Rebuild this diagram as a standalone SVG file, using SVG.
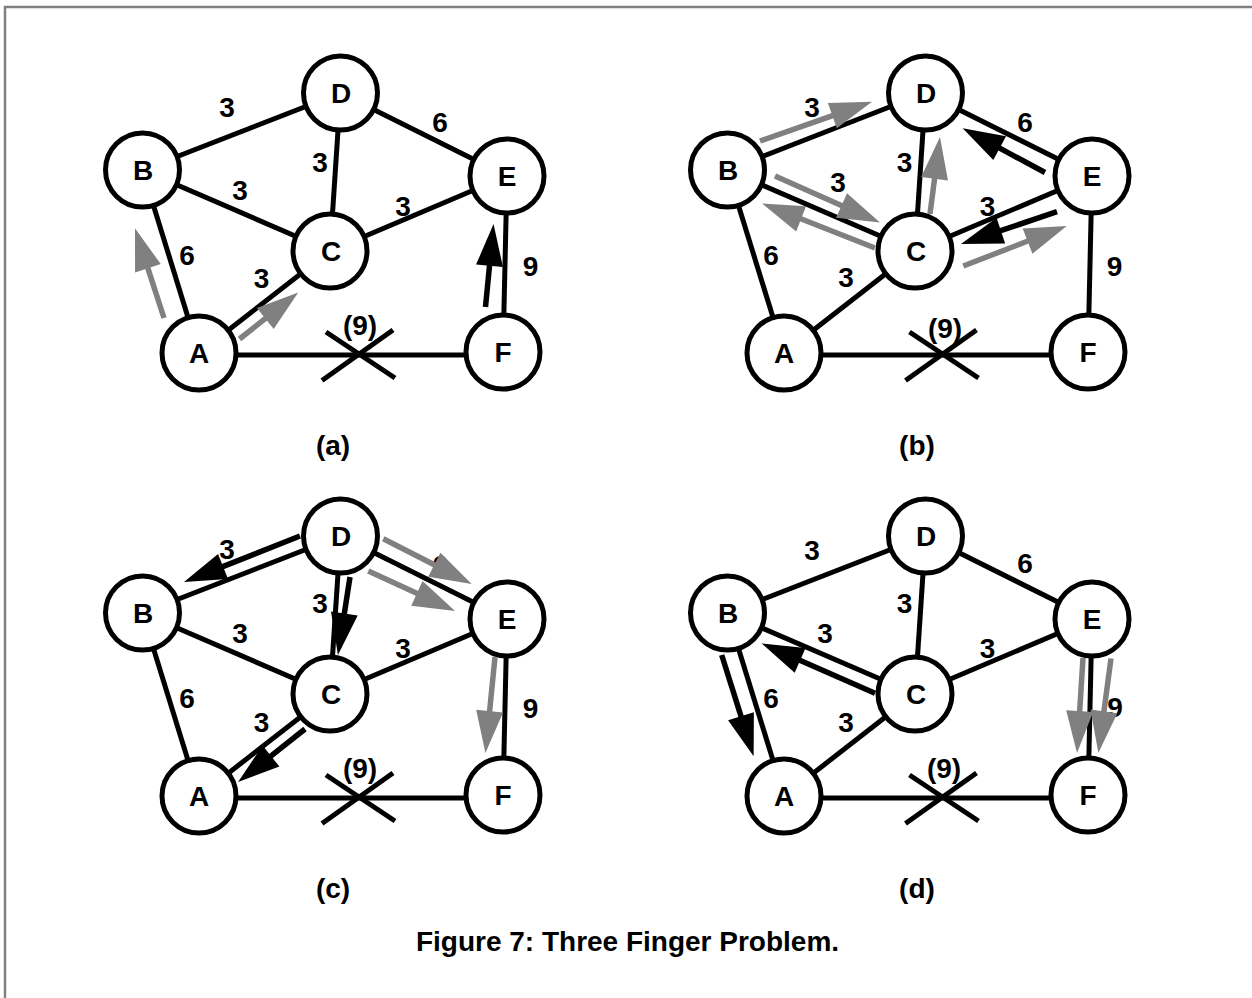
<svg xmlns="http://www.w3.org/2000/svg" width="1252" height="998" viewBox="0 0 1252 998">
  <style>
    .edge { stroke: #000; stroke-width: 5; fill: none; }
    .node circle { fill: #fff; stroke: #000; stroke-width: 5; }
    text { font-family: "Liberation Sans", Arial, Helvetica, sans-serif; font-weight: bold; font-size: 28px; text-anchor: middle; fill: #000; }
    .arw { stroke-width: 5.5; fill: none; }
    .arw.gray { stroke: #808080; marker-end: url(#head-gray); }
    .arw.blk { stroke: #000; marker-end: url(#head-black); }
    .frame { stroke: #808080; stroke-width: 2.5; fill: none; }
  </style>
  <defs>
    <marker id="head-black" markerUnits="userSpaceOnUse" markerWidth="44" markerHeight="28" refX="1" refY="13.5" orient="auto" overflow="visible">
      <path d="M0,0 L42,13.5 L0,27 z" fill="#000"/>
    </marker>
    <marker id="head-gray" markerUnits="userSpaceOnUse" markerWidth="44" markerHeight="28" refX="1" refY="13.5" orient="auto" overflow="visible">
      <path d="M0,0 L42,13.5 L0,27 z" fill="#808080"/>
    </marker>
    <path id="cross" d="M-34,-23 L35,23 M-38,25.5 L33,-25" stroke="#000" stroke-width="5" fill="none"/>
  </defs>

  <rect width="1252" height="998" fill="#fff"/>
  <path class="frame" d="M5,998 V7 H1252"/>

  <!-- panel (a) -->
  <g id="panel-a">
    <g id="a-edges" class="connectors">
      <line class="edge" x1="142.5" y1="170" x2="340.5" y2="93"/>
      <line class="edge" x1="340.5" y1="93" x2="507" y2="176"/>
      <line class="edge" x1="142.5" y1="170" x2="330" y2="251"/>
      <line class="edge" x1="340.5" y1="93" x2="330" y2="251"/>
      <line class="edge" x1="330" y1="251" x2="507" y2="176"/>
      <line class="edge" x1="142.5" y1="170" x2="199" y2="353"/>
      <line class="edge" x1="199" y1="353" x2="330" y2="251"/>
      <line class="edge" x1="507" y1="176" x2="503" y2="352"/>
      <line class="edge" x1="199" y1="355" x2="503" y2="355"/>
      <use href="#cross" x="360" y="355"/>
    </g>
    <g id="a-weights">
      <text x="227" y="117">3</text>
      <text x="440" y="131.5">6</text>
      <text x="320" y="171.5">3</text>
      <text x="240" y="200">3</text>
      <text x="403" y="216">3</text>
      <text x="187" y="264.5">6</text>
      <text x="261.5" y="288">3</text>
      <text x="530.5" y="275.5">9</text>
      <text x="360" y="335">(9)</text>
    </g>
    <g id="a-A" class="node"><circle cx="199" cy="353" r="37"/><text x="199" y="363">A</text></g>
    <g id="a-B" class="node"><circle cx="142.5" cy="170" r="37"/><text x="143" y="180">B</text></g>
    <g id="a-C" class="node"><circle cx="330" cy="251" r="37"/><text x="331" y="261">C</text></g>
    <g id="a-D" class="node"><circle cx="340.5" cy="93" r="37"/><text x="341" y="103">D</text></g>
    <g id="a-E" class="node"><circle cx="507" cy="176" r="37"/><text x="507" y="186">E</text></g>
    <g id="a-F" class="node"><circle cx="503" cy="352" r="37"/><text x="503" y="362">F</text></g>
    <g id="a-moves" class="connectors">
      <line class="arw gray" x1="164" y1="318" x2="147.6" y2="267.3"/>
      <line class="arw gray" x1="239.5" y1="339" x2="266.1" y2="317.9"/>
      <line class="arw blk" x1="485.5" y1="307" x2="489.6" y2="264.8"/>
    </g>
    <text x="333" y="455">(a)</text>
  </g>

  <!-- panel (b) -->
  <g id="panel-b" transform="translate(585,0)">
    <g id="b-edges" class="connectors">
      <line class="edge" x1="142.5" y1="170" x2="340.5" y2="93"/>
      <line class="edge" x1="340.5" y1="93" x2="507" y2="176"/>
      <line class="edge" x1="142.5" y1="170" x2="330" y2="251"/>
      <line class="edge" x1="340.5" y1="93" x2="330" y2="251"/>
      <line class="edge" x1="330" y1="251" x2="507" y2="176"/>
      <line class="edge" x1="142.5" y1="170" x2="199" y2="353"/>
      <line class="edge" x1="199" y1="353" x2="330" y2="251"/>
      <line class="edge" x1="507" y1="176" x2="503" y2="352"/>
      <line class="edge" x1="199" y1="355" x2="503" y2="355"/>
      <use href="#cross" x="358.5" y="355"/>
    </g>
    <g id="b-weights">
      <text x="227" y="117">3</text>
      <text x="440" y="131.5">6</text>
      <text x="319.5" y="171.5">3</text>
      <text x="253" y="191.5">3</text>
      <text x="402.5" y="216">3</text>
      <text x="186" y="265">6</text>
      <text x="261" y="287">3</text>
      <text x="529.5" y="275.5">9</text>
      <text x="360" y="338">(9)</text>
    </g>
    <g id="b-A" class="node"><circle cx="199" cy="353" r="37"/><text x="199" y="363">A</text></g>
    <g id="b-B" class="node"><circle cx="142.5" cy="170" r="37"/><text x="143" y="180">B</text></g>
    <g id="b-C" class="node"><circle cx="330" cy="251" r="37"/><text x="331" y="261">C</text></g>
    <g id="b-D" class="node"><circle cx="340.5" cy="93" r="37"/><text x="341" y="103">D</text></g>
    <g id="b-E" class="node"><circle cx="507" cy="176" r="37"/><text x="507" y="186">E</text></g>
    <g id="b-F" class="node"><circle cx="503" cy="352" r="37"/><text x="503" y="362">F</text></g>
    <g id="b-moves" class="connectors">
      <line class="arw gray" x1="175" y1="141" x2="248.3" y2="115.3"/>
      <line class="arw gray" x1="190" y1="176" x2="257.5" y2="205.9"/>
      <line class="arw gray" x1="290" y1="248" x2="215.2" y2="218.5"/>
      <line class="arw gray" x1="345" y1="214" x2="349.7" y2="177.7"/>
      <line class="arw blk" x1="460" y1="172.5" x2="413.8" y2="147.7"/>
      <line class="arw blk" x1="472" y1="211.7" x2="414.9" y2="230.9"/>
      <line class="arw gray" x1="378.3" y1="266" x2="443.5" y2="240.8"/>
    </g>
    <text x="332" y="455">(b)</text>
  </g>

  <!-- panel (c) -->
  <g id="panel-c" transform="translate(0,443)">
    <g id="c-edges" class="connectors">
      <line class="edge" x1="142.5" y1="170" x2="340.5" y2="93"/>
      <line class="edge" x1="340.5" y1="93" x2="507" y2="176"/>
      <line class="edge" x1="142.5" y1="170" x2="330" y2="251"/>
      <line class="edge" x1="340.5" y1="93" x2="330" y2="251"/>
      <line class="edge" x1="330" y1="251" x2="507" y2="176"/>
      <line class="edge" x1="142.5" y1="170" x2="199" y2="353"/>
      <line class="edge" x1="199" y1="353" x2="330" y2="251"/>
      <line class="edge" x1="507" y1="176" x2="503" y2="352"/>
      <line class="edge" x1="199" y1="355" x2="503" y2="355"/>
      <use href="#cross" x="360" y="355"/>
    </g>
    <g id="c-weights">
      <text x="227" y="116">3</text>
      <text x="440" y="131.5">6</text>
      <text x="320" y="170">3</text>
      <text x="240" y="200">3</text>
      <text x="403" y="215">3</text>
      <text x="187" y="265">6</text>
      <text x="261.5" y="288.5">3</text>
      <text x="530.5" y="275">9</text>
      <text x="360" y="335">(9)</text>
    </g>
    <g id="c-A" class="node"><circle cx="199" cy="353" r="37"/><text x="199" y="363">A</text></g>
    <g id="c-B" class="node"><circle cx="142.5" cy="170" r="37"/><text x="143" y="180">B</text></g>
    <g id="c-C" class="node"><circle cx="330" cy="251" r="37"/><text x="331" y="261">C</text></g>
    <g id="c-D" class="node"><circle cx="340.5" cy="93" r="37"/><text x="341" y="103">D</text></g>
    <g id="c-E" class="node"><circle cx="507" cy="176" r="37"/><text x="507" y="186">E</text></g>
    <g id="c-F" class="node"><circle cx="503" cy="352" r="37"/><text x="503" y="362">F</text></g>
    <g id="c-moves" class="connectors">
      <line class="arw blk" x1="300" y1="93" x2="222.1" y2="123.9"/>
      <line class="arw blk" x1="350" y1="134" x2="344.2" y2="171.5"/>
      <line class="arw gray" x1="383.3" y1="95.8" x2="435.2" y2="122.3"/>
      <line class="arw gray" x1="368.3" y1="128" x2="417.8" y2="150.8"/>
      <line class="arw blk" x1="305" y1="286" x2="270.2" y2="313.6"/>
      <line class="arw gray" x1="495" y1="214" x2="489.5" y2="269.2"/>
    </g>
    <text x="333" y="455">(c)</text>
  </g>

  <!-- panel (d) -->
  <g id="panel-d" transform="translate(585,443)">
    <g id="d-edges" class="connectors">
      <line class="edge" x1="142.5" y1="170" x2="340.5" y2="93"/>
      <line class="edge" x1="340.5" y1="93" x2="507" y2="176"/>
      <line class="edge" x1="142.5" y1="170" x2="330" y2="251"/>
      <line class="edge" x1="340.5" y1="93" x2="330" y2="251"/>
      <line class="edge" x1="330" y1="251" x2="507" y2="176"/>
      <line class="edge" x1="142.5" y1="170" x2="199" y2="353"/>
      <line class="edge" x1="199" y1="353" x2="330" y2="251"/>
      <line class="edge" x1="507" y1="176" x2="503" y2="352"/>
      <line class="edge" x1="199" y1="355" x2="503" y2="355"/>
      <use href="#cross" x="358.5" y="355"/>
    </g>
    <g id="d-weights">
      <text x="227" y="117">3</text>
      <text x="440" y="130">6</text>
      <text x="319.5" y="170">3</text>
      <text x="240" y="200">3</text>
      <text x="402.5" y="215">3</text>
      <text x="186" y="265">6</text>
      <text x="261" y="288.5">3</text>
      <text x="530" y="274">9</text>
      <text x="359" y="335">(9)</text>
    </g>
    <g id="d-A" class="node"><circle cx="199" cy="353" r="37"/><text x="199" y="363">A</text></g>
    <g id="d-B" class="node"><circle cx="142.5" cy="170" r="37"/><text x="143" y="180">B</text></g>
    <g id="d-C" class="node"><circle cx="330" cy="251" r="37"/><text x="331" y="261">C</text></g>
    <g id="d-D" class="node"><circle cx="340.5" cy="93" r="37"/><text x="341" y="103">D</text></g>
    <g id="d-E" class="node"><circle cx="507" cy="176" r="37"/><text x="507" y="186">E</text></g>
    <g id="d-F" class="node"><circle cx="503" cy="352" r="37"/><text x="503" y="362">F</text></g>
    <g id="d-moves" class="connectors">
      <line class="arw blk" x1="136.7" y1="212" x2="156.3" y2="274.2"/>
      <line class="arw blk" x1="290" y1="250.3" x2="214.2" y2="216.9"/>
      <line class="arw gray" x1="498" y1="215" x2="494.6" y2="269.1"/>
      <line class="arw gray" x1="526" y1="215.5" x2="518.8" y2="269.4"/>
    </g>
    <text x="332" y="455">(d)</text>
  </g>

  <text x="627.5" y="951">Figure 7: Three Finger Problem.</text>
</svg>
